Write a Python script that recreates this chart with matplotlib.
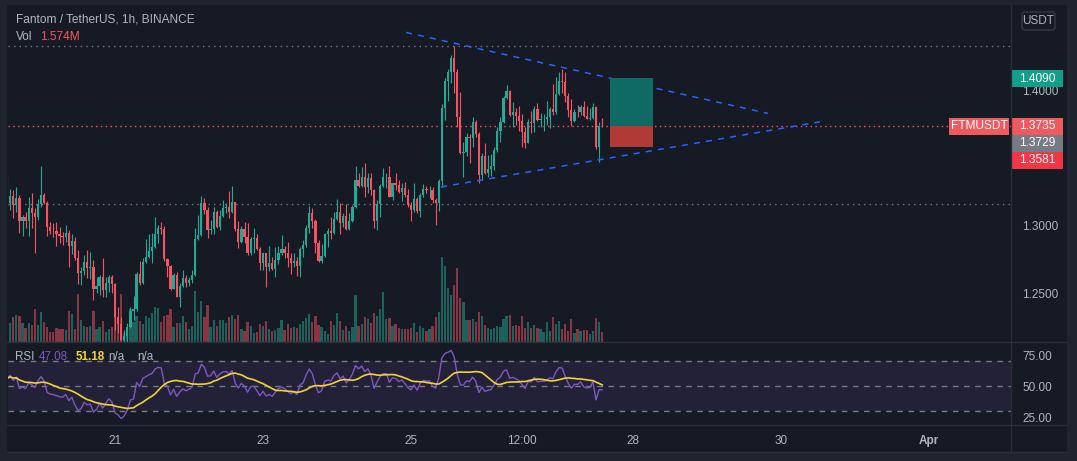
import numpy as np
import pandas as pd
import matplotlib
matplotlib.use("Agg")
import matplotlib.pyplot as plt
from matplotlib.patches import Rectangle, FancyBboxPatch

plt.rcParams['font.family'] = ['Liberation Sans', 'DejaVu Sans']

# ---- data (FTMUSDT 1h, Binance) ----
first_open = 1.3337
close = [
    1.3165, 1.3219, 1.3153, 1.3207, 1.3037, 1.3062, 1.3037, 1.3128, 1.3096, 1.3062,
    1.3160, 1.3227, 1.3170, 1.2993, 1.2963, 1.2958, 1.2939, 1.2924, 1.2914, 1.2944,
    1.2853, 1.2887, 1.2759, 1.2648, 1.2665, 1.2729, 1.2685, 1.2692, 1.2532, 1.2557,
    1.2619, 1.2525, 1.2574, 1.2624, 1.2569, 1.2328, 1.2271, 1.2156, 1.2185, 1.2249,
    1.2372, 1.2382, 1.2643, 1.2574, 1.2732, 1.2769, 1.2813, 1.2840, 1.2939, 1.2981,
    1.2973, 1.2752, 1.2702, 1.2535, 1.2633, 1.2476, 1.2555, 1.2611, 1.2574, 1.2599,
    1.2633, 1.2899, 1.2929, 1.3165, 1.3116, 1.2968, 1.2978, 1.3101, 1.2993, 1.3072,
    1.3128, 1.3136, 1.3104, 1.3175, 1.2973, 1.2882, 1.2973, 1.2919, 1.2801, 1.2899,
    1.2912, 1.2828, 1.2722, 1.2796, 1.2697, 1.2722, 1.2683, 1.2747, 1.2801, 1.2826,
    1.2801, 1.2759, 1.2722, 1.2742, 1.2705, 1.2826, 1.2855, 1.2986, 1.3096, 1.3037,
    1.2875, 1.2742, 1.2776, 1.2936, 1.2961, 1.2949, 1.3047, 1.3101, 1.3018, 1.3072,
    1.2973, 1.3037, 1.3136, 1.3338, 1.3293, 1.3362, 1.3288, 1.3350, 1.3264, 1.3037,
    1.3160, 1.3293, 1.3357, 1.3360, 1.3214, 1.3313, 1.3303, 1.3251, 1.3281, 1.3224,
    1.3155, 1.3116, 1.3195, 1.3106, 1.3227, 1.3273, 1.3264, 1.3266, 1.3192, 1.3165,
    1.3328, 1.3867, 1.4069, 1.4135, 1.4236, 1.4138, 1.3805, 1.3539, 1.3542, 1.3658,
    1.3645, 1.3766, 1.3677, 1.3374, 1.3515, 1.3392, 1.3421, 1.3441, 1.3559, 1.3697,
    1.3766, 1.3943, 1.3992, 1.3818, 1.3840, 1.3813, 1.3776, 1.3695, 1.3613, 1.3766,
    1.3761, 1.3859, 1.3781, 1.3788, 1.3791, 1.3805, 1.3859, 1.3842, 1.3973, 1.4069,
    1.4064, 1.3958, 1.3855, 1.3776, 1.3840, 1.3837, 1.3879, 1.3810, 1.3791, 1.3798,
    1.3874, 1.3579, 1.3736, 1.3735,
]
high = [
    1.3374, 1.3269, 1.3264, 1.3283, 1.3227, 1.3079, 1.3104, 1.3214, 1.3239, 1.3128,
    1.3195, 1.3441, 1.3239, 1.3185, 1.3030, 1.3022, 1.3030, 1.2993, 1.2956, 1.3005,
    1.2968, 1.2939, 1.2919, 1.2820, 1.2697, 1.2784, 1.2820, 1.2808, 1.2747, 1.2624,
    1.2636, 1.2759, 1.2624, 1.2636, 1.2636, 1.2579, 1.2402, 1.2328, 1.2230, 1.2279,
    1.2402, 1.2481, 1.2660, 1.2742, 1.2759, 1.2899, 1.2939, 1.2949, 1.3062, 1.3005,
    1.3027, 1.2998, 1.2759, 1.2710, 1.2648, 1.2660, 1.2574, 1.2673, 1.2636, 1.2624,
    1.2673, 1.2981, 1.3079, 1.3219, 1.3202, 1.3141, 1.3042, 1.3141, 1.3116, 1.3116,
    1.3190, 1.3165, 1.3259, 1.3293, 1.3177, 1.3035, 1.2998, 1.3030, 1.3018, 1.2914,
    1.2981, 1.2939, 1.2840, 1.2801, 1.2801, 1.2850, 1.2771, 1.2840, 1.2850, 1.2931,
    1.2850, 1.2882, 1.2801, 1.2796, 1.2771, 1.2840, 1.2894, 1.3005, 1.3146, 1.3128,
    1.3052, 1.2894, 1.2865, 1.2949, 1.2981, 1.3062, 1.3104, 1.3195, 1.3165, 1.3096,
    1.3160, 1.3091, 1.3150, 1.3441, 1.3392, 1.3431, 1.3466, 1.3392, 1.3387, 1.3269,
    1.3190, 1.3308, 1.3424, 1.3387, 1.3441, 1.3318, 1.3387, 1.3338, 1.3318, 1.3325,
    1.3269, 1.3177, 1.3313, 1.3214, 1.3244, 1.3308, 1.3293, 1.3293, 1.3288, 1.3202,
    1.3342, 1.3899, 1.4088, 1.4155, 1.4261, 1.4327, 1.4155, 1.3990, 1.3621, 1.3687,
    1.3677, 1.3800, 1.3781, 1.3694, 1.3534, 1.3608, 1.3522, 1.3530, 1.3579, 1.3731,
    1.3805, 1.3958, 1.4039, 1.4002, 1.3916, 1.3867, 1.3884, 1.3825, 1.3731, 1.3786,
    1.3850, 1.3884, 1.3909, 1.3835, 1.3825, 1.3923, 1.3874, 1.4047, 1.4101, 1.4138,
    1.4155, 1.4138, 1.3978, 1.3933, 1.3859, 1.3891, 1.3891, 1.3921, 1.3884, 1.3867,
    1.3909, 1.3884, 1.3768, 1.3795,
]
low = [
    1.3153, 1.3116, 1.3054, 1.3104, 1.2949, 1.2926, 1.2985, 1.2926, 1.2985, 1.2801,
    1.3042, 1.3141, 1.3160, 1.2924, 1.2939, 1.2919, 1.2850, 1.2870, 1.2857, 1.2882,
    1.2697, 1.2791, 1.2747, 1.2569, 1.2562, 1.2636, 1.2611, 1.2604, 1.2451, 1.2500,
    1.2488, 1.2471, 1.2476, 1.2513, 1.2505, 1.2230, 1.2205, 1.2143, 1.2143, 1.2143,
    1.2242, 1.2303, 1.2372, 1.2562, 1.2569, 1.2722, 1.2759, 1.2722, 1.2833, 1.2870,
    1.2939, 1.2742, 1.2624, 1.2525, 1.2530, 1.2471, 1.2397, 1.2545, 1.2545, 1.2555,
    1.2579, 1.2628, 1.2894, 1.2924, 1.3086, 1.2907, 1.2939, 1.2939, 1.2981, 1.2968,
    1.3062, 1.3091, 1.3054, 1.3091, 1.2963, 1.2833, 1.2870, 1.2870, 1.2784, 1.2784,
    1.2796, 1.2821, 1.2673, 1.2673, 1.2550, 1.2668, 1.2673, 1.2619, 1.2717, 1.2784,
    1.2759, 1.2697, 1.2643, 1.2697, 1.2629, 1.2619, 1.2771, 1.2845, 1.2949, 1.2981,
    1.2801, 1.2734, 1.2727, 1.2771, 1.2845, 1.2899, 1.2939, 1.3042, 1.2939, 1.2988,
    1.2968, 1.2968, 1.3030, 1.3128, 1.3283, 1.3288, 1.3215, 1.3244, 1.3227, 1.2981,
    1.2968, 1.3067, 1.3288, 1.3276, 1.3209, 1.3190, 1.3264, 1.3239, 1.3185, 1.3214,
    1.3141, 1.3037, 1.3104, 1.3091, 1.3067, 1.3214, 1.3239, 1.3202, 1.3165, 1.3005,
    1.3111, 1.3288, 1.3781, 1.3923, 1.4052, 1.3978, 1.3727, 1.3530, 1.3362, 1.3515,
    1.3466, 1.3579, 1.3658, 1.3318, 1.3338, 1.3382, 1.3357, 1.3367, 1.3411, 1.3547,
    1.3621, 1.3761, 1.3933, 1.3810, 1.3731, 1.3744, 1.3702, 1.3579, 1.3571, 1.3608,
    1.3687, 1.3695, 1.3776, 1.3731, 1.3702, 1.3744, 1.3719, 1.3818, 1.3825, 1.3965,
    1.3978, 1.3916, 1.3805, 1.3737, 1.3768, 1.3805, 1.3818, 1.3800, 1.3786, 1.3781,
    1.3791, 1.3564, 1.3473, 1.3729,
]
volume_m = [
    3.77, 2.93, 3.87, 4.18, 4.03, 2.93, 2.14, 2.93, 2.62, 5.13,
    2.62, 4.65, 3.09, 2.35, 1.52, 1.52, 2.14, 1.99, 1.99, 1.83,
    4.81, 4.34, 1.99, 7.48, 3.40, 2.46, 2.30, 2.46, 4.81, 1.99,
    2.30, 3.24, 1.52, 1.99, 2.30, 5.13, 2.77, 7.48, 1.31, 2.35,
    5.07, 3.09, 4.03, 3.24, 2.77, 4.03, 3.71, 4.50, 5.44, 5.28,
    3.09, 4.03, 4.18, 5.13, 2.30, 2.93, 2.93, 4.03, 3.09, 1.99,
    2.46, 7.95, 4.65, 6.38, 3.87, 5.75, 2.30, 3.40, 2.46, 3.40,
    3.40, 2.93, 3.87, 4.18, 3.56, 4.18, 1.99, 1.67, 3.09, 2.46,
    1.36, 1.52, 2.77, 2.46, 3.24, 1.99, 1.67, 1.83, 2.14, 3.40,
    1.83, 2.77, 2.14, 2.30, 2.14, 2.77, 3.24, 3.71, 4.34, 3.09,
    4.03, 2.62, 2.30, 1.67, 1.20, 3.24, 2.62, 4.50, 3.24, 1.83,
    2.46, 1.67, 2.30, 7.32, 2.46, 2.77, 3.87, 3.56, 2.93, 4.50,
    4.03, 5.13, 7.79, 3.56, 3.71, 2.46, 2.77, 2.14, 1.99, 1.99,
    1.99, 2.14, 2.93, 1.52, 2.46, 2.14, 1.67, 1.99, 2.46, 3.87,
    4.65, 13.28, 11.87, 8.42, 7.32, 8.89, 11.56, 6.85, 6.22, 3.40,
    3.40, 3.56, 3.09, 4.65, 4.03, 2.62, 2.14, 1.99, 2.14, 2.46,
    2.35, 3.56, 4.03, 4.18, 2.46, 2.62, 2.46, 4.03, 2.14, 3.09,
    2.14, 2.62, 2.14, 1.99, 1.52, 3.09, 1.67, 3.87, 2.77, 3.24,
    1.99, 2.77, 1.67, 3.56, 1.36, 1.99, 1.67, 1.83, 1.83, 1.20,
    1.67, 3.71, 3.09, 1.574,
]

# RSI state at the first visible bar (history left of the chart), RSI ~56
rsi_seed_gain = 0.0040
rsi_seed_loss = 0.0031
rsi_len = 14

first_candle_day = 19 + 13 / 24          # 19 Mar, 13:00
date_ticks = [21, 23, 25, 26.5, 28, 30, 32]
date_labels = ['21', '23', '25', '12:00', '28', '30', 'Apr']
price_ticks = [1.25, 1.30, 1.40]
rsi_ticks = [25, 50, 75]
rsi_bands = [30, 50, 70]

# drawings
upper_trend = ([24.932, 29.824], [1.44276, 1.38294])
lower_trend = ([25.405, 30.527], [1.32858, 1.37674])
hlines_grey = [1.43235, 1.3160]
entry, target, stop = 1.3735, 1.4090, 1.3581
pos_span = (27.689, 28.266)
last_price, prev_label = 1.3735, 1.3729

# ---- colours ----
BG = '#161a25'
OUTER = '#20242f'
UP = '#22ab94'
DN = '#f7525f'
TXT = '#b2b5be'
SEP = '#2a2e39'

W, H = 1077, 461
fig = plt.figure(figsize=(W / 100, H / 100), dpi=100, facecolor=OUTER)
fig.add_artist(Rectangle((7 / W, 1 - 452 / H), (1067 - 7) / W, (452 - 5) / H,
                         transform=fig.transFigure, facecolor=BG, edgecolor='none', zorder=0))

x_left = 19.554
x_right = 33.108
ax = fig.add_axes([8 / W, 1 - 341.7 / H, 1003 / W, (341.7 - 6) / H])
axr = fig.add_axes([8 / W, 1 - 425 / H, 1003 / W, (425 - 342.7) / H])
for a in (ax, axr):
    a.set_facecolor('none')
    for s in a.spines.values():
        s.set_visible(False)
    a.set_xlim(x_left, x_right)

n = len(close)
t = first_candle_day + np.arange(n) / 24
c = np.array(close)
o = np.r_[first_open, c[:-1]]
hi = np.maximum(np.array(high), np.maximum(o, c))
lo = np.minimum(np.array(low), np.minimum(o, c))
up = c >= o
cols = np.where(up, UP, DN)

# volume overlay
axv = ax.twinx()
for s in axv.spines.values():
    s.set_visible(False)
axv.set_ylim(0, 52.4)
axv.bar(t, volume_m, width=0.72 / 24, color=cols, alpha=0.5, linewidth=0, zorder=1)
axv.set_yticks([])
axv.set_xlim(x_left, x_right)
ax.set_zorder(axv.get_zorder() + 1)
ax.patch.set_visible(False)

# candles
ax.vlines(t, lo, hi, colors=cols, linewidth=0.8, zorder=3)
body = np.maximum(np.abs(c - o), 0.0003)
ax.bar(t, body, bottom=np.minimum(o, c), width=0.72 / 24, color=cols, linewidth=0, zorder=4)
ax.set_ylim(1.21433, 1.46226)

# horizontal lines and drawings
for p in hlines_grey:
    ax.axhline(p, color='#787b86', lw=1, ls=(0, (1, 3)), zorder=2)
ax.axhline(entry, color=DN, lw=1, ls=(0, (1, 2.5)), zorder=2)
ax.plot(*upper_trend, color='#2962ff', lw=1.1, ls=(0, (4, 4)), zorder=5)
ax.plot(*lower_trend, color='#2962ff', lw=1.1, ls=(0, (4, 4)), zorder=5)
ax.add_patch(Rectangle((pos_span[0], entry), pos_span[1] - pos_span[0], target - entry,
                       facecolor='#0e6a62', edgecolor='none', zorder=6))
ax.add_patch(Rectangle((pos_span[0], stop), pos_span[1] - pos_span[0], entry - stop,
                       facecolor='#b23a36', edgecolor='none', zorder=6))

ax.yaxis.tick_right()
ax.set_yticks(price_ticks)
ax.set_yticklabels([f'{v:.4f}' for v in price_ticks])
ax.tick_params(axis='y', length=0, pad=8, labelsize=8.5, labelcolor=TXT)
ax.set_xticks([])

# RSI (Wilder, 14) from the closes, and its 14-bar average
ag, al = rsi_seed_gain, rsi_seed_loss
rsi_vals = [100 - 100 / (1 + ag / al)]
for diff in np.diff(c):
    ag = (ag * (rsi_len - 1) + max(diff, 0)) / rsi_len
    al = (al * (rsi_len - 1) + max(-diff, 0)) / rsi_len
    rsi_vals.append(100 - 100 / (1 + ag / al))
rsi = pd.Series(rsi_vals)
rsi_ma = rsi.rolling(rsi_len, min_periods=1).mean()

axr.set_ylim(19.04, 84.9)
axr.axhspan(rsi_bands[0], rsi_bands[2], color='#7e57c2', alpha=0.12, lw=0, zorder=0)
for b in rsi_bands:
    axr.axhline(b, color='#787b86', lw=1, ls=(0, (4, 4)), zorder=1)
axr.plot(t, rsi, color='#7e57c2', lw=1, zorder=3)
axr.plot(t, rsi_ma, color='#f2d335', lw=1.2, zorder=4)
axr.yaxis.tick_right()
axr.set_yticks(rsi_ticks)
axr.set_yticklabels([f'{v:.2f}' for v in rsi_ticks])
axr.tick_params(axis='y', length=0, pad=8, labelsize=8.5, labelcolor=TXT)
axr.set_xticks(date_ticks)
axr.set_xticklabels(date_labels)
axr.tick_params(axis='x', length=0, pad=7, labelsize=8.5, labelcolor=TXT)
axr.get_xticklabels()[-1].set_fontweight('bold')

# ---- overlay in pixel coordinates: separators, legends, price labels ----
ov = fig.add_axes([0, 0, 1, 1], zorder=20)
ov.set_xlim(0, W)
ov.set_ylim(H, 0)
ov.axis('off')
ov.patch.set_visible(False)
ov.plot([1011, 1011], [5, 452], color=SEP, lw=1)
ov.plot([7, 1067], [342, 342], color=SEP, lw=1)
ov.plot([7, 1067], [425, 425], color=SEP, lw=1)
ov.plot([7, 1067], [452, 452], color=SEP, lw=1)

ov.text(16, 20, 'Fantom / TetherUS, 1h, BINANCE', color=TXT, fontsize=8.6, va='center')
ov.text(16, 37, 'Vol', color=TXT, fontsize=8.6, va='center')
ov.text(40, 37, '1.574M', color=DN, fontsize=8.6, va='center')

ov.text(15, 357, 'RSI', color=TXT, fontsize=8.4, va='center')
ov.text(39, 357, '47.08', color='#7e57c2', fontsize=8.4, va='center')
ov.text(76, 357, '51.18', color='#f2d335', fontsize=8.4, va='center', fontweight='bold')
ov.text(108, 357, 'n/a', color=TXT, fontsize=8.4, va='center')
ov.text(137, 357, 'n/a', color=TXT, fontsize=8.4, va='center')

ov.add_patch(FancyBboxPatch((1022, 12), 33, 18, boxstyle='round,pad=0,rounding_size=3',
                            facecolor='none', edgecolor='#363a45', lw=1))
ov.text(1038.5, 21, 'USDT', color=TXT, fontsize=8.5, ha='center', va='center')


def price_y(p):
    return H - ax.transData.transform((x_left, p))[1]


def tag(y_top, text, color, x0=1011, x1=1063):
    ov.add_patch(Rectangle((x0, y_top), x1 - x0, 17, facecolor=color, edgecolor='none'))
    ov.text((x0 + x1) / 2, y_top + 8.7, text, color='white', fontsize=8.6,
            ha='center', va='center')


y_tp = price_y(target)
y_last = price_y(last_price)
tag(y_tp - 8, f'{target:.4f}', '#13a08b')
tag(y_last - 8.5, f'{last_price:.4f}', '#f05a5f')
tag(y_last - 8.5, 'FTMUSDT', '#f05a5f', 949, 1009)
tag(y_last + 8.5, f'{prev_label:.4f}', '#787b86')
tag(y_last + 25.5, f'{stop:.4f}', '#f23645')

fig.savefig('out.png', dpi=100, facecolor=OUTER)
